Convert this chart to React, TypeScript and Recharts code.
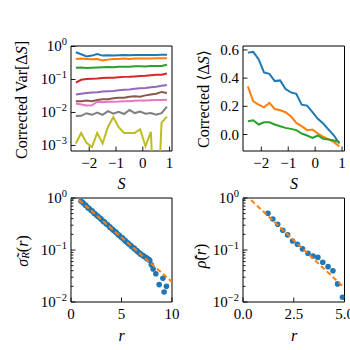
import React from 'react';
import { LineChart, ComposedChart, Line, Scatter, XAxis, YAxis, ReferenceArea } from 'recharts';

// step variable S used by both top panels
const S = [-2.5, -2.3, -2.1, -1.9, -1.7, -1.5, -1.3, -1.1, -0.9, -0.7, -0.5, -0.3, -0.1, 0.1, 0.3, 0.5, 0.7, 0.9];

// corrected variance, one array per curve (log axis)
const varBlue = [0.67, 0.58, 0.5, 0.53, 0.59, 0.53, 0.54, 0.53, 0.54, 0.55, 0.54, 0.55, 0.55, 0.55, 0.55, 0.555, 0.56, 0.56];
const varOrange = [0.42, 0.43, 0.42, 0.41, 0.42, 0.38, 0.4, 0.42, 0.42, 0.43, 0.42, 0.43, 0.43, 0.43, 0.43, 0.44, 0.44, 0.44];
const varGreen = [0.226, 0.23, 0.222, 0.228, 0.232, 0.235, 0.238, 0.236, 0.242, 0.245, 0.243, 0.25, 0.252, 0.248, 0.255, 0.258, 0.255, 0.28];
const varRed = [0.08, 0.098, 0.104, 0.106, 0.107, 0.11, 0.112, 0.113, 0.116, 0.12, 0.121, 0.124, 0.127, 0.13, 0.135, 0.138, 0.14, 0.152];
const varPurple = [0.035, 0.037, 0.039, 0.04, 0.041, 0.043, 0.044, 0.045, 0.047, 0.049, 0.05, 0.052, 0.054, 0.055, 0.058, 0.06, 0.065, 0.068];
const varBrown = [0.022, 0.022, 0.023, 0.022, 0.024, 0.025, 0.025, 0.027, 0.028, 0.028, 0.03, 0.031, 0.03, 0.033, 0.035, 0.037, 0.042, 0.039];
const varPink = [0.0186, 0.0175, 0.0162, 0.0165, 0.0212, 0.0205, 0.021, 0.0212, 0.0215, 0.022, 0.022, 0.0225, 0.023, 0.023, 0.0235, 0.024, 0.024, 0.0245];
const varGray = [0.0078, 0.0079, 0.0095, 0.0085, 0.01, 0.0085, 0.011, 0.0092, 0.0105, 0.009, 0.012, 0.0096, 0.0107, 0.0092, 0.0096, 0.0086, 0.0095, 0.015];
// 1e-6 stands in for the non-positive value that falls off the log axis
const varOlive = [0.00115, 0.0024, 0.0012, 0.00089, 0.0024, 0.00115, 0.0037, 0.0072, 0.0036, 0.0024, 0.0024, 0.0024, 0.0031, 0.00095, 0.0026, 1e-6, 0.0049, 0.0075];

// corrected mean <dS>
const meanBlue = [0.581, 0.586, 0.534, 0.44, 0.43, 0.379, 0.384, 0.322, 0.299, 0.289, 0.212, 0.205, 0.158, 0.111, 0.078, 0.035, -0.007, -0.064];
const meanOrange = [0.341, 0.235, 0.212, 0.193, 0.224, 0.181, 0.172, 0.158, 0.129, 0.082, 0.059, 0.031, 0.035, 0.007, -0.016, -0.035, -0.054, -0.085];
const meanGreen = [0.094, 0.101, 0.071, 0.087, 0.087, 0.071, 0.059, 0.047, 0.04, 0.031, 0.007, -0.007, -0.024, -0.007, -0.031, -0.035, -0.042, -0.053];

// sigma_R(r) scatter + fit
const sigR = [0, 1.0, 1.2, 1.4, 1.5, 1.7, 1.8, 2.0, 2.1, 2.3, 2.4, 2.6, 2.7, 2.9, 3.0, 3.2, 3.3, 3.5, 3.6, 3.8, 3.9, 4.1, 4.2, 4.4, 4.5, 4.7, 4.8, 5.0, 5.1, 5.3, 5.4, 5.6, 5.7, 5.9, 6.0, 6.2, 6.3, 6.5, 6.6, 6.8, 6.9, 7.1, 7.2, 7.4, 7.5, 7.7, 7.8, 7.95, 8.13, 8.4, 8.73, 9.1, 9.22, 9.45];
const sigV = [1.0, 0.87, 0.81, 0.74, 0.71, 0.645, 0.63, 0.575, 0.56, 0.51, 0.49, 0.457, 0.436, 0.407, 0.39, 0.355, 0.347, 0.316, 0.309, 0.282, 0.269, 0.251, 0.24, 0.224, 0.214, 0.195, 0.19, 0.174, 0.17, 0.155, 0.148, 0.138, 0.132, 0.123, 0.117, 0.11, 0.105, 0.098, 0.093, 0.087, 0.083, 0.079, 0.076, 0.072, 0.069, 0.066, 0.063, 0.052, 0.043, 0.035, 0.0216, 0.0285, 0.0156, 0.02];
const sigFitR = [0.8, 10];
const sigFitV = [0.92, 0.0243];

// rho(r) scatter + fit
const rhoR = [0, 1.23, 1.47, 1.71, 1.96, 2.2, 2.44, 2.68, 2.93, 3.2, 3.45, 3.69, 3.93, 4.19, 4.43, 4.66, 4.9];
const rhoV = [1.0, 0.508, 0.395, 0.312, 0.239, 0.195, 0.149, 0.129, 0.105, 0.0865, 0.0767, 0.072, 0.058, 0.0478, 0.04, 0.0223, 0.0123];
const rhoFitR = [0.4, 5];
const rhoFitV = [0.91, 0.0186];

const FONT = "'Liberation Serif', 'DejaVu Serif', serif";
const TAB = ['#1f77b4', '#ff7f0e', '#2ca02c', '#d62728', '#9467bd', '#8c564b', '#e377c2', '#7f7f7f', '#bcbd22'];

const varSeries = [varBlue, varOrange, varGreen, varRed, varPurple, varBrown, varPink, varGray, varOlive];
const meanSeries = [meanBlue, meanOrange, meanGreen];

const varRows = S.map((s, i) => {
  const row: any = { S: s };
  varSeries.forEach((arr, k) => (row['v' + k] = arr[i]));
  return row;
});
const meanRows = S.map((s, i) => {
  const row: any = { S: s };
  meanSeries.forEach((arr, k) => (row['m' + k] = arr[i]));
  return row;
});
const sigPts = sigR.map((r, i) => ({ r, v: sigV[i] }));
const sigFit = sigFitR.map((r, i) => ({ r, v: sigFitV[i] }));
const rhoPts = rhoR.map((r, i) => ({ r, v: rhoV[i] }));
const rhoFit = rhoFitR.map((r, i) => ({ r, v: rhoFitV[i] }));

const minus = (v: number, s: string) => (v < 0 ? '\u2212' + s.replace('-', '') : s);
const fmtInt = (v: number) => minus(v, String(v));
const fmt1 = (v: number) => minus(v, v.toFixed(1));

const XTick = ({ x, y, payload, fmt }: any) => (
  <g>
    <line x1={x} x2={x} y1={y} y2={y - 4.5} stroke="#000" strokeWidth={0.9} />
    <text x={x} y={y + 17} textAnchor="middle" fontSize={15} fontFamily={FONT} fill="#000">
      {fmt(payload.value)}
    </text>
  </g>
);

const LinYTick = ({ x, y, payload }: any) => (
  <g>
    <line x1={x} x2={x + 4.5} y1={y} y2={y} stroke="#000" strokeWidth={0.9} />
    <text x={x - 4} y={y + 5} textAnchor="end" fontSize={15} fontFamily={FONT} fill="#000">
      {fmt1(payload.value)}
    </text>
  </g>
);

const LogYTick = ({ x, y, payload }: any) => {
  const e = Math.log10(payload.value);
  const k = Math.round(e);
  const major = Math.abs(e - k) < 1e-6;
  return (
    <g>
      <line x1={x} x2={x + (major ? 4.5 : 2.5)} y1={y} y2={y} stroke="#000" strokeWidth={0.9} />
      {major && (
        <text x={x - 4} y={y + 5} textAnchor="end" fontSize={15} fontFamily={FONT} fill="#000">
          10
          <tspan dy={-6} fontSize={10.5}>{k === 0 ? '0' : '\u2212' + -k}</tspan>
        </text>
      )}
    </g>
  );
};

const logTicks = (lo: number, hi: number, minor: boolean) => {
  const out: number[] = [];
  for (let k = lo; k <= hi; k++) {
    out.push(Math.pow(10, k));
    if (minor && k < hi) for (let m = 2; m <= 9; m++) out.push(+(m * Math.pow(10, k)).toPrecision(3));
  }
  return out;
};

const Frame = ({ x, y }: any) => (
  <ReferenceArea x1={x[0]} x2={x[1]} y1={y[0]} y2={y[1]} fill="none" stroke="#000" strokeWidth={1} strokeOpacity={1} ifOverflow="visible" />
);

const S_DOM = [-2.68, 1.09];
const VAR_DOM = [6.8e-4, 1.035];
const MEAN_DOM = [-0.117, 0.628];

export default function App() {
  const box = (left: number, top: number): React.CSSProperties => ({ position: 'absolute', left, top });
  return (
    <div style={{ position: 'absolute', left: 0, top: 0, width: 350, height: 350, background: '#fff', overflow: 'hidden' }}>
      {/* top-left: corrected variance */}
      <div style={box(0, 0)}>
        <LineChart width={195} height={200} data={varRows} margin={{ top: 46, right: 23, bottom: 0, left: 0 }}>
          <XAxis dataKey="S" type="number" domain={S_DOM} allowDataOverflow ticks={[-2, -1, 0, 1]} interval={0}
            height={49} axisLine={false} tickLine={false} tickSize={0} tickMargin={0}
            tick={(p: any) => <XTick {...p} fmt={fmtInt} />} />
          <YAxis scale="log" type="number" domain={VAR_DOM} allowDataOverflow ticks={logTicks(-3, 0, false)} interval={0}
            width={71} axisLine={false} tickLine={false} tickSize={0} tickMargin={0} tick={(p: any) => <LogYTick {...p} />} />
          {varSeries.map((_, k) => (
            <Line key={k} dataKey={'v' + k} stroke={TAB[k]} strokeWidth={2} dot={false} isAnimationActive={false} />
          ))}
          <Frame x={S_DOM} y={VAR_DOM} />
        </LineChart>
      </div>

      {/* top-right: corrected mean */}
      <div style={box(175, 0)}>
        <LineChart width={175} height={200} data={meanRows} margin={{ top: 46, right: 5.5, bottom: 0, left: 0 }}>
          <XAxis dataKey="S" type="number" domain={S_DOM} allowDataOverflow ticks={[-2, -1, 0, 1]} interval={0}
            height={49} axisLine={false} tickLine={false} tickSize={0} tickMargin={0}
            tick={(p: any) => <XTick {...p} fmt={fmtInt} />} />
          <YAxis type="number" domain={MEAN_DOM} allowDataOverflow ticks={[0, 0.2, 0.4, 0.6]} interval={0}
            width={68} axisLine={false} tickLine={false} tickSize={0} tickMargin={0} tick={(p: any) => <LinYTick {...p} />} />
          {meanSeries.map((_, k) => (
            <Line key={k} dataKey={'m' + k} stroke={TAB[k]} strokeWidth={2} dot={false} isAnimationActive={false} />
          ))}
          <Frame x={S_DOM} y={MEAN_DOM} />
        </LineChart>
      </div>

      {/* bottom-left: sigma_R(r) */}
      <div style={box(0, 175)}>
        <ComposedChart width={195} height={175} margin={{ top: 23, right: 23, bottom: 0, left: 0 }}>
          <XAxis dataKey="r" type="number" domain={[0, 10]} allowDataOverflow ticks={[0, 5, 10]} interval={0}
            height={48} axisLine={false} tickLine={false} tickSize={0} tickMargin={0}
            tick={(p: any) => <XTick {...p} fmt={fmtInt} />} />
          <YAxis dataKey="v" scale="log" type="number" domain={[0.01, 1]} allowDataOverflow ticks={logTicks(-2, 0, true)} interval={0}
            width={71} axisLine={false} tickLine={false} tickSize={0} tickMargin={0} tick={(p: any) => <LogYTick {...p} />} />
          <Scatter data={sigPts} dataKey="v" isAnimationActive={false}
            shape={(p: any) => <circle cx={p.cx} cy={p.cy} r={2.8} fill={TAB[0]} />} />
          <Line data={sigFit} dataKey="v" stroke={TAB[1]} strokeWidth={2} strokeDasharray="5 3" dot={false} isAnimationActive={false} zIndex={700} />
          <Frame x={[0, 10]} y={[0.01, 1]} />
        </ComposedChart>
      </div>

      {/* bottom-right: rho(r) */}
      <div style={box(175, 175)}>
        <ComposedChart width={175} height={175} margin={{ top: 23, right: 5.5, bottom: 0, left: 0 }}>
          <XAxis dataKey="r" type="number" domain={[0, 5]} allowDataOverflow ticks={[0, 2.5, 5]} interval={0}
            height={48} axisLine={false} tickLine={false} tickSize={0} tickMargin={0}
            tick={(p: any) => <XTick {...p} fmt={fmt1} />} />
          <YAxis dataKey="v" scale="log" type="number" domain={[0.01, 1]} allowDataOverflow ticks={logTicks(-2, 0, true)} interval={0}
            width={68} axisLine={false} tickLine={false} tickSize={0} tickMargin={0} tick={(p: any) => <LogYTick {...p} />} />
          <Scatter data={rhoPts} dataKey="v" isAnimationActive={false}
            shape={(p: any) => <circle cx={p.cx} cy={p.cy} r={2.8} fill={TAB[0]} />} />
          <Line data={rhoFit} dataKey="v" stroke={TAB[1]} strokeWidth={2} strokeDasharray="5 3" dot={false} isAnimationActive={false} zIndex={700} />
          <Frame x={[0, 5]} y={[0.01, 1]} />
        </ComposedChart>
      </div>

      {/* axis titles */}
      <svg width={350} height={350} style={{ position: 'absolute', left: 0, top: 0, pointerEvents: 'none' }}
        fontFamily={FONT} fontSize={16} fill="#000">
        <text transform="translate(21,100) rotate(-90)" textAnchor="middle" dominantBaseline="central">
          Corrected Var[Δ<tspan fontStyle="italic">S</tspan>]
        </text>
        <text transform="translate(203,99) rotate(-90)" textAnchor="middle" dominantBaseline="central">
          Corrected ⟨Δ<tspan fontStyle="italic">S</tspan>⟩
        </text>
        <text transform="translate(22,251) rotate(-90)" textAnchor="middle" dominantBaseline="central">
          <tspan fontStyle="italic">σ̃</tspan>
          <tspan fontStyle="italic" fontSize={11} dy={3}>R</tspan>
          <tspan dy={-3}>(</tspan>
          <tspan fontStyle="italic">r</tspan>)
        </text>
        <text transform="translate(200,256) rotate(-90)" textAnchor="middle" dominantBaseline="central">
          <tspan fontStyle="italic">ρ̃</tspan>(<tspan fontStyle="italic">r</tspan>)
        </text>
        <text x={121.5} y={183} textAnchor="middle" dominantBaseline="central" fontStyle="italic">S</text>
        <text x={294} y={183} textAnchor="middle" dominantBaseline="central" fontStyle="italic">S</text>
        <text x={121.5} y={335} textAnchor="middle" dominantBaseline="central" fontStyle="italic">r</text>
        <text x={294} y={335} textAnchor="middle" dominantBaseline="central" fontStyle="italic">r</text>
      </svg>
    </div>
  );
}
